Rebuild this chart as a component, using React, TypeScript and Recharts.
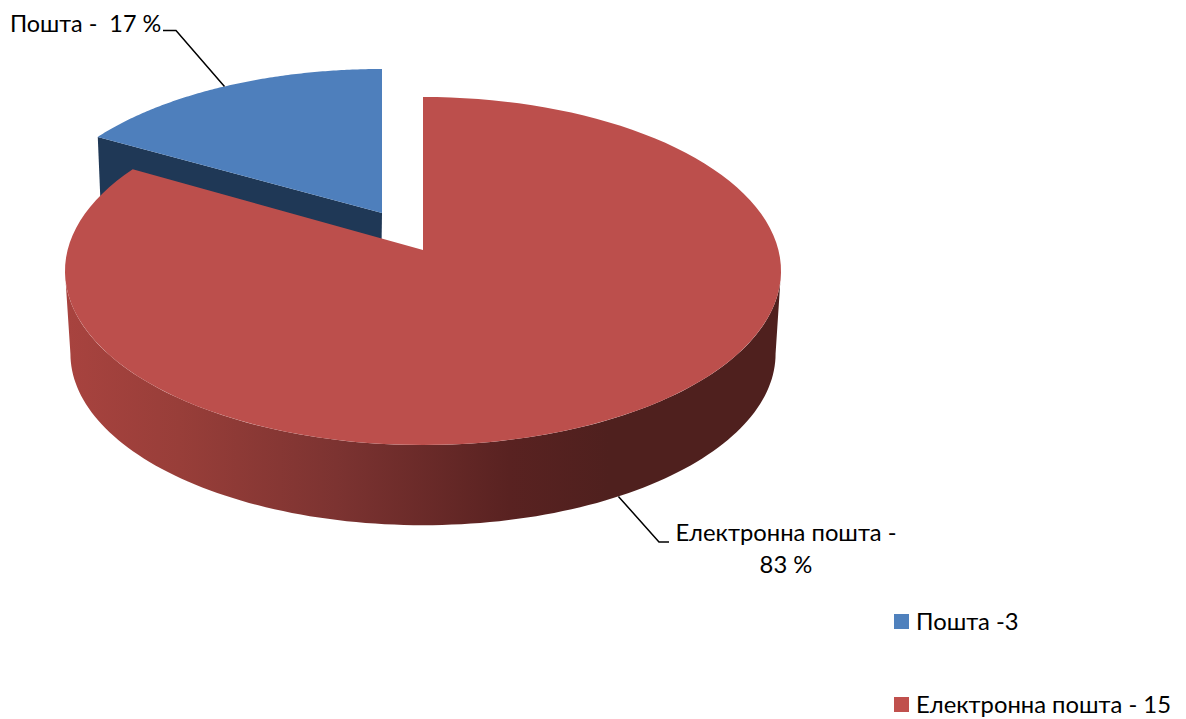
import React from 'react';
import { PieChart, Pie, Cell, Legend } from 'recharts';

const categories = ['Пошта -3', 'Електронна пошта - 15'];
const values = [3, 15];
const dataLabels = [['Пошта -  17 %'], ['Електронна пошта -', '83 %']];
const colors = ['#4F81BD', '#C0504D'];
const topColors = ['#4E7FBC', '#BC4F4C'];

const chartData = categories.map((name, i) => ({ name, value: values[i] }));

const FONT = 'Lato, "Open Sans", sans-serif';
const K = 0.1207;

const top = [
  { x0: 382, y0: 213, a: 348, b: 161.4 },
  { x0: 423, y0: 250, a: 355.4, b: 171.5 },
];
const bottom = { x0: 423, y0: 333, a: 350, b: 169 };

type P = { x0: number; y0: number; a: number; b: number };
const project = (p: P, deg: number) => {
  const t = (deg * Math.PI) / 180;
  const w = 1 + K * Math.sin(t);
  return [p.x0 + (p.a * Math.cos(t)) / w, p.y0 - (p.b * Math.sin(t)) / w];
};
const arcPoints = (p: P, from: number, to: number) => {
  const n = 120;
  const out: number[][] = [];
  for (let i = 0; i <= n; i++) out.push(project(p, from + ((to - from) * i) / n));
  return out;
};
const toPath = (pts: number[][]) =>
  pts.map((q, i) => `${i ? 'L' : 'M'}${q[0].toFixed(2)} ${q[1].toFixed(2)}`).join(' ');

const Slice = (props: any) => {
  const { index, startAngle, endAngle } = props;
  const p = top[index];
  const rim = arcPoints(p, startAngle, endAngle);
  const face = `${toPath([[p.x0, p.y0], ...rim])} Z`;
  if (index === 0) {
    const depth = 72;
    const corner = project(p, startAngle);
    const wall = `M${corner[0]} ${corner[1]} L${p.x0} ${p.y0} L${p.x0 - 1} ${p.y0 + depth} L${corner[0] + 3} ${corner[1] + depth} Z`;
    return (
      <g>
        <path d={wall} fill="#1F3856" />
        <path d={face} fill={topColors[0]} />
      </g>
    );
  }
  const tangent = (Math.asin(K) * 180) / Math.PI;
  const topRim = arcPoints(p, 180 + tangent, 360 - tangent);
  const botRim = arcPoints(bottom, 360 - tangent, 180 + tangent);
  return (
    <g>
      <defs>
        <linearGradient id="wallShade" gradientUnits="userSpaceOnUse" x1="65" y1="0" x2="781" y2="0">
          <stop offset="0" stopColor="#A8433F" />
          <stop offset="0.16" stopColor="#983E39" />
          <stop offset="0.38" stopColor="#7C3331" />
          <stop offset="0.62" stopColor="#592221" />
          <stop offset="0.76" stopColor="#4F201E" />
          <stop offset="1" stopColor="#4F201E" />
        </linearGradient>
      </defs>
      <path d={`${toPath([...topRim, ...botRim])} Z`} fill="url(#wallShade)" />
      <path d={face} fill={topColors[1]} />
    </g>
  );
};

const leaders = [
  { elbow: [176, 30.5], end: [163, 30.5], anchor: 'start', x: 10, y: 32 },
  { elbow: [659, 542], end: [669, 542], anchor: 'middle', x: 786, y: 541 },
];

const SliceLabel = (props: any) => {
  const { index, midAngle } = props;
  const l = leaders[index];
  const from = project(index === 0 ? top[0] : bottom, midAngle);
  return (
    <g>
      <polyline
        points={`${from[0]},${from[1]} ${l.elbow[0]},${l.elbow[1]} ${l.end[0]},${l.end[1]}`}
        fill="none"
        stroke="#000"
        strokeWidth={1.5}
      />
      {dataLabels[index].map((line, i) => (
        <text
          key={line}
          x={l.x}
          y={l.y + i * 32}
          textAnchor={l.anchor as any}
          fontFamily={FONT}
          fontSize={index === 0 ? 23.4 : 23.8}
          fill="#000"
          style={{ whiteSpace: 'pre' }}
        >
          {line}
        </text>
      ))}
    </g>
  );
};

const LegendBox = ({ payload }: any) => (
  <div style={{ fontFamily: FONT, fontSize: 23.8, lineHeight: '22px', color: '#000', display: 'flex', flexDirection: 'column', gap: 61 }}>
    {(payload || []).map((e: any) => (
      <div key={e.value} style={{ display: 'flex', alignItems: 'center', height: 22, whiteSpace: 'nowrap' }}>
        <span style={{ width: 15, height: 15, background: e.color, marginRight: 7, display: 'inline-block' }} />
        {e.value}
      </div>
    ))}
  </div>
);

export default function App() {
  return (
    <div style={{ position: 'absolute', left: 0, top: 0, width: 1186, height: 719, background: '#fff', overflow: 'hidden' }}>
      <PieChart width={1186} height={719} margin={{ top: 0, right: 0, bottom: 0, left: 0 }}>
        <Pie
          data={chartData}
          dataKey="value"
          nameKey="name"
          cx={423}
          cy={271}
          outerRadius={170}
          startAngle={150}
          endAngle={-210}
          stroke="none"
          shape={Slice}
          label={SliceLabel}
          labelLine={false}
          isAnimationActive={false}
        >
          {chartData.map((d, i) => (
            <Cell key={d.name} fill={colors[i]} />
          ))}
        </Pie>
        <Legend
          content={LegendBox}
          itemSorter={null}
          wrapperStyle={{ position: 'absolute', left: 894, top: 610, width: 292, bottom: 'auto' }}
        />
      </PieChart>
    </div>
  );
}
